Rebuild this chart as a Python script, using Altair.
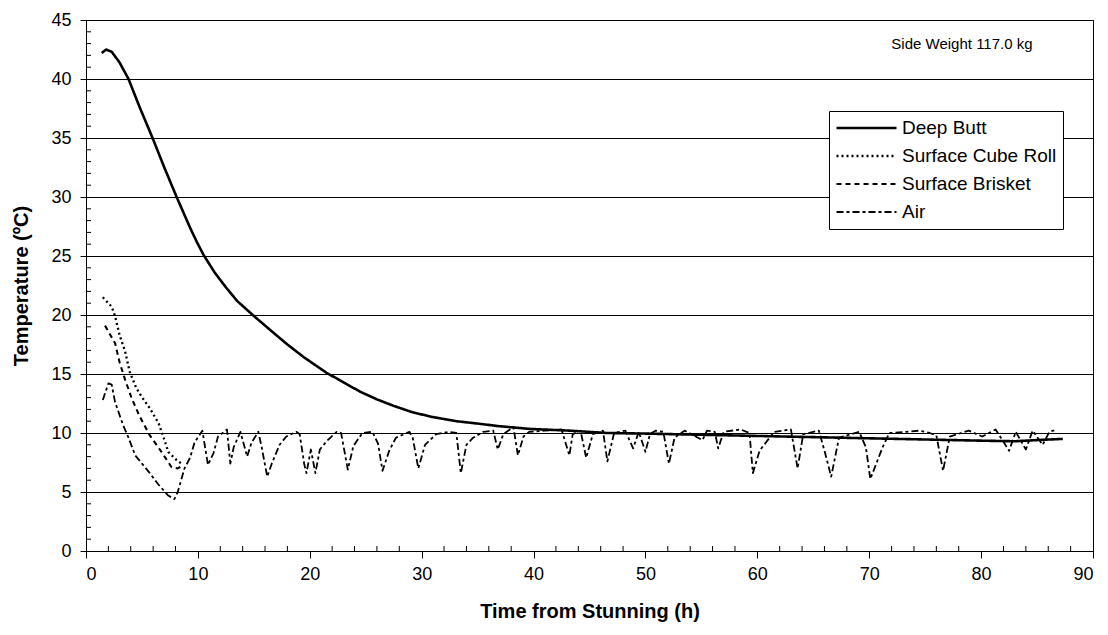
import altair as alt
import pandas as pd

FONT = "Liberation Sans"

# ---- data ----
deep_time = [1.4, 1.8, 2.3, 3.0, 3.8, 4.8, 5.95, 7.0, 8.1, 8.7, 9.3, 9.9, 10.5, 11.5, 12.5, 13.5, 14.9,
             16.5, 18.0, 19.5, 21.5, 23.0, 24.5, 26.0, 27.5, 29.2, 31.0, 33.1, 35.0, 36.7, 39.6,
             43.2, 46.6, 50.0, 55.0, 60.0, 65.0, 70.0, 75.0, 80.0, 83.0, 85.0, 87.3]
deep_temp = [42.2, 42.5, 42.3, 41.4, 40.0, 37.6, 35.0, 32.5, 30.0, 28.7, 27.4, 26.2, 25.1, 23.6, 22.35, 21.2, 20.0,
             18.7, 17.5, 16.4, 15.1, 14.3, 13.5, 12.85, 12.3, 11.75, 11.35, 11.0, 10.8, 10.6, 10.35,
             10.2, 10.0, 9.95, 9.85, 9.75, 9.65, 9.55, 9.45, 9.35, 9.3, 9.4, 9.5]

cube_time = [1.5, 2.3, 2.6, 3.0, 3.5, 3.9, 4.5, 5.1, 5.7, 6.5, 7.05, 7.35, 8.1, 8.7]
cube_temp = [21.5, 20.7, 19.9, 18.3, 16.9, 15.2, 13.8, 12.9, 12.1, 10.8, 9.3, 8.4, 7.7, 7.3]

brisket_time = [1.7, 2.6, 3.0, 3.5, 4.1, 4.8, 5.7, 6.6, 7.65, 8.2, 8.7]
brisket_temp = [19.1, 17.6, 16.0, 14.5, 12.9, 11.4, 9.8, 8.6, 7.1, 7.0, 7.3]

air_points = [
    (1.5, 12.8), (2.0, 14.2), (2.3, 14.1), (2.6, 12.6), (2.9, 11.8), (3.3, 10.7), (3.8, 9.6),
    (4.4, 8.1), (5.1, 7.3), (5.7, 6.6), (6.5, 5.6), (7.35, 4.7), (7.9, 4.4), (8.2, 5.0),
    (8.8, 7.0), (9.3, 7.9), (9.7, 9.2), (10.4, 10.2), (10.9, 7.3), (11.4, 8.3), (11.8, 9.7),
    (12.6, 10.3), (12.9, 7.4), (13.2, 8.8), (13.8, 10.1), (14.4, 8.0), (14.8, 9.2), (15.4, 10.1),
    (15.7, 8.8), (16.2, 6.3), (16.6, 7.4), (17.3, 9.0), (17.9, 9.7), (18.8, 10.1), (19.1, 9.9),
    (19.5, 7.4), (19.7, 6.6), (20.1, 8.6), (20.5, 6.6), (20.9, 8.6), (21.5, 9.3), (22.4, 10.1),
    (22.8, 10.0), (23.4, 6.9), (23.9, 8.9), (24.7, 10.0), (25.6, 10.1), (26.1, 9.1), (26.5, 6.8),
    (27.1, 8.5), (27.7, 9.6), (28.9, 10.1), (29.2, 9.6), (29.7, 7.0), (30.3, 9.0), (31.3, 9.9),
    (32.4, 10.1), (33.1, 10.0), (33.5, 6.6), (34.0, 9.0), (34.6, 9.6), (35.5, 10.1), (36.4, 10.2),
    (36.8, 8.6), (37.3, 9.9), (38.2, 10.5), (38.6, 8.1), (39.1, 9.7), (39.6, 10.1), (41.0, 10.2),
    (42.5, 10.3), (43.2, 8.1), (43.5, 9.9), (44.2, 10.2), (44.7, 7.9), (45.3, 9.9), (46.2, 10.2),
    (46.6, 7.6), (47.2, 10.0), (48.2, 10.2), (48.9, 8.7), (49.4, 10.1), (50.0, 8.4), (50.4, 9.9),
    (50.9, 10.2), (51.6, 10.1), (52.1, 7.4), (52.6, 9.6), (53.5, 10.2), (55.1, 9.4), (55.5, 10.2),
    (56.2, 10.1), (56.5, 8.7), (57.0, 10.1), (58.5, 10.3), (59.3, 10.0), (59.6, 6.6), (60.2, 8.5),
    (61.5, 10.1), (63.0, 10.3), (63.6, 7.0), (64.1, 9.9), (65.5, 10.2), (66.0, 8.5), (66.6, 6.3),
    (67.3, 9.6), (69.1, 10.1), (69.7, 8.8), (70.1, 6.1), (71.2, 8.8), (71.8, 10.0), (73.3, 10.1),
    (74.5, 10.2), (75.4, 10.0), (76.0, 9.8), (76.6, 6.8), (77.2, 9.7), (78.9, 10.2), (80.1, 9.7),
    (81.3, 10.3), (82.5, 8.5), (83.1, 10.1), (84.0, 8.6), (84.6, 10.2), (85.5, 9.0), (86.1, 10.1),
    (86.8, 10.3),
]

series_names = ["Deep Butt", "Surface Cube Roll", "Surface Brisket", "Air"]
x_ticks = [0, 10, 20, 30, 40, 50, 60, 70, 80, 90]
y_ticks = [0, 5, 10, 15, 20, 25, 30, 35, 40, 45]
note_x = [84.6]
note_y = [43.0]
note_text = ["Side Weight 117.0 kg"]

# ---- build table ----
rows = []
for t, v in zip(deep_time, deep_temp):
    rows.append({"series": "Deep Butt", "time": t, "temp": v})
for t, v in zip(cube_time, cube_temp):
    rows.append({"series": "Surface Cube Roll", "time": t, "temp": v})
for t, v in zip(brisket_time, brisket_temp):
    rows.append({"series": "Surface Brisket", "time": t, "temp": v})
for t, v in air_points:
    rows.append({"series": "Air", "time": t, "temp": v})
df = pd.DataFrame(rows)

x_scale = alt.Scale(domain=[0, 90], nice=False, zero=False)
y_scale = alt.Scale(domain=[0, 45], nice=False, zero=False)

lines = alt.Chart(df).mark_line(color="black", strokeCap="butt", strokeJoin="round").encode(
    x=alt.X("time:Q", scale=x_scale,
            axis=alt.Axis(values=x_ticks, title="Time from Stunning (h)", grid=False,
                          tickSize=7, labelPadding=7, titlePadding=18, format="d")),
    y=alt.Y("temp:Q", scale=y_scale,
            axis=alt.Axis(values=y_ticks, title="Temperature (ºC)", grid=True,
                          gridColor="black", gridWidth=1, gridOpacity=1,
                          tickSize=6, labelPadding=9, titlePadding=19, format="d")),
    strokeDash=alt.StrokeDash("series:N",
        scale=alt.Scale(domain=series_names,
                        range=[[1, 0], [2, 3], [5, 4], [7, 3, 3, 3]]),
        legend=alt.Legend(title=None, orient="none", legendX=743, legendY=91,
                          symbolType="stroke", symbolSize=3600, symbolStrokeColor="black",
                          clipHeight=22, labelFont=FONT, labelFontSize=19, labelColor="black",
                          strokeColor="black", fillColor="white", padding=6,
                          rowPadding=6, labelOffset=4, symbolOffset=0)),
    strokeWidth=alt.StrokeWidth("series:N",
        scale=alt.Scale(domain=series_names, range=[2.6, 1.8, 2.2, 1.5]),
        legend=None),
    detail="series:N",
    order="time:Q",
)

y_minor = pd.DataFrame({"v": [v for v in range(1, 45) if v % 5 != 0]})
x_minor = pd.DataFrame({"v": [v for v in range(2, 90, 2) if v % 10 != 0]})

y_minor_ticks = alt.Chart(y_minor).mark_rule(color="black", strokeWidth=1).encode(
    y=alt.Y("v:Q", scale=y_scale), x=alt.value(0), x2=alt.value(5))
x_minor_ticks = alt.Chart(x_minor).mark_rule(color="black", strokeWidth=1).encode(
    x=alt.X("v:Q", scale=x_scale), y=alt.value(531), y2=alt.value(526))

note = alt.Chart(pd.DataFrame({"x": note_x, "y": note_y, "t": note_text})).mark_text(
    align="right", baseline="middle", font=FONT, fontSize=15, color="black").encode(
    x=alt.X("x:Q", scale=x_scale), y=alt.Y("y:Q", scale=y_scale), text="t:N")

chart = alt.layer(y_minor_ticks, x_minor_ticks, lines, note).properties(
    width=1007, height=531,
    autosize=alt.AutoSizeParams(type="none"),
    padding={"left": 86, "top": 20, "right": 15, "bottom": 84},
    background="white",
).configure_view(
    stroke="black", strokeWidth=1,
).configure_axis(
    domainColor="black", tickColor="black", labelColor="black", titleColor="black",
    labelFont=FONT, titleFont=FONT, labelFontSize=18, titleFontSize=20,
    titleFontWeight="bold", domainWidth=1, tickWidth=1,
)

chart.save("out.html", embed_options={"renderer": "svg", "actions": False})
